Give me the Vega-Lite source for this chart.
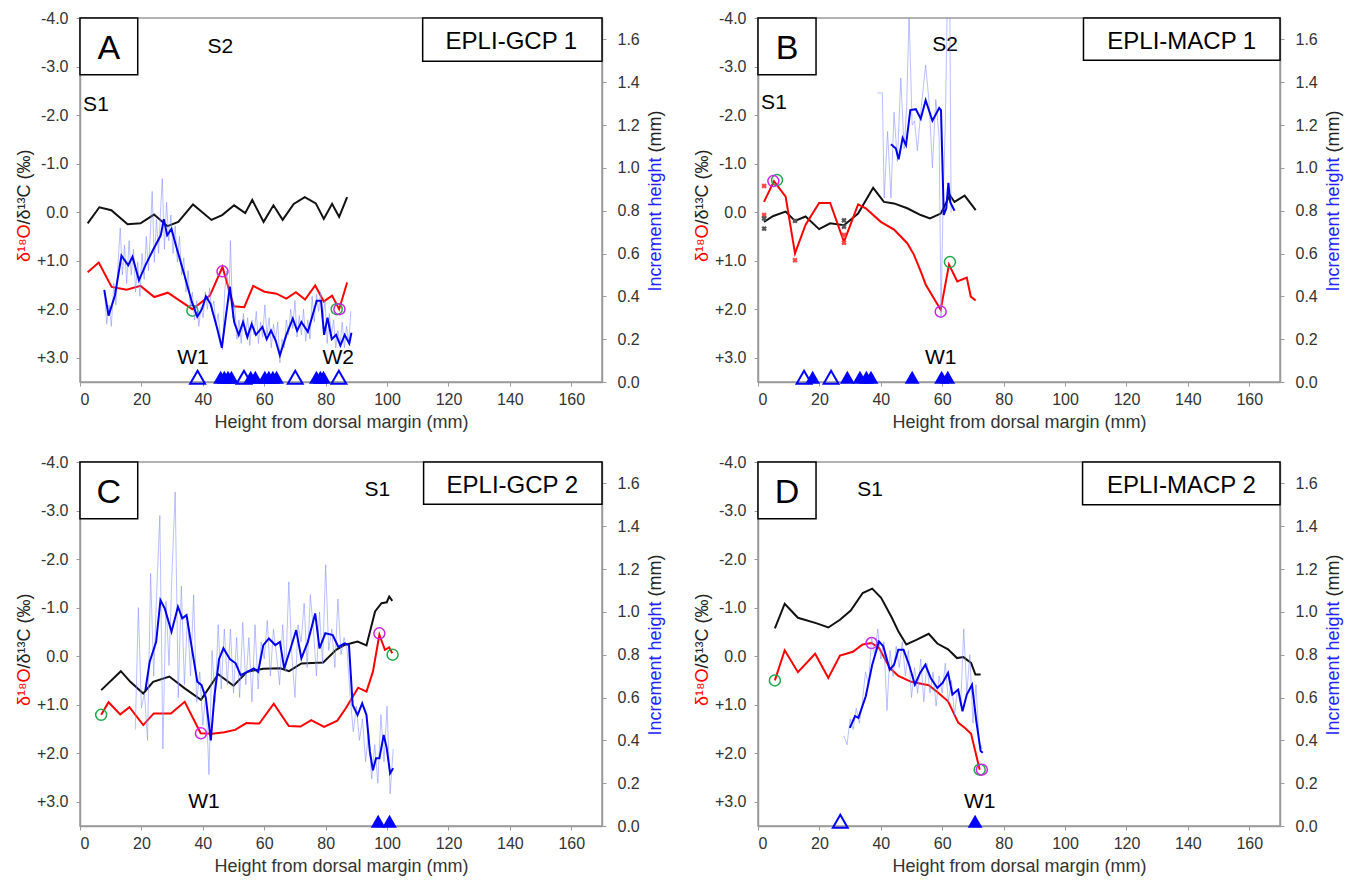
{
"$schema": "https://vega.github.io/schema/vega-lite/v6.json",
"background": "white",
"padding": {"left": 14, "top": 9, "right": 5, "bottom": 5},
"bounds": "flush",
"columns": 2,
"spacing": {"row": 80, "column": 156},
"datasets": {
"box": [
{"p":"A","k":"L","x1":0,"x2":18.8,"y1":-4,"y2":-2.83,"tx":9.4,"ty":-3.37,"t":"A"},
{"p":"A","k":"N","x1":111.6,"x2":170,"y1":-4,"y2":-3.11,"tx":140.5,"ty":-3.5,"t":"EPLI-GCP 1"},
{"p":"B","k":"L","x1":0,"x2":18.9,"y1":-4,"y2":-2.83,"tx":9.45,"ty":-3.37,"t":"B"},
{"p":"B","k":"N","x1":106,"x2":170,"y1":-4,"y2":-3.13,"tx":138,"ty":-3.51,"t":"EPLI-MACP 1"},
{"p":"C","k":"L","x1":0,"x2":18.8,"y1":-4,"y2":-2.83,"tx":9.4,"ty":-3.37,"t":"C"},
{"p":"C","k":"N","x1":111.9,"x2":170,"y1":-4,"y2":-3.13,"tx":140.8,"ty":-3.51,"t":"EPLI-GCP 2"},
{"p":"D","k":"L","x1":0,"x2":18.9,"y1":-4,"y2":-2.83,"tx":9.45,"ty":-3.37,"t":"D"},
{"p":"D","k":"N","x1":105.7,"x2":170,"y1":-4,"y2":-3.12,"tx":137.9,"ty":-3.51,"t":"EPLI-MACP 2"}
],
"lab": [
{"p":"A","x":5.2,"y":-2.2,"t":"S1"},{"p":"A","x":45.7,"y":-3.4,"t":"S2"},{"p":"A","x":36.8,"y":3.0,"t":"W1"},{"p":"A","x":84.1,"y":3.0,"t":"W2"},
{"p":"B","x":5.2,"y":-2.24,"t":"S1"},{"p":"B","x":60.9,"y":-3.44,"t":"S2"},{"p":"B","x":59.5,"y":3.0,"t":"W1"},
{"p":"C","x":96.8,"y":-3.43,"t":"S1"},{"p":"C","x":40.4,"y":3.0,"t":"W1"},
{"p":"D","x":36.5,"y":-3.43,"t":"S1"},{"p":"D","x":72.2,"y":3.0,"t":"W1"}
],
"o18": [
{"p":"A","x":2.5,"v":1.24},{"p":"A","x":6.1,"v":1.04},{"p":"A","x":10.3,"v":1.54},{"p":"A","x":15.2,"v":1.6},{"p":"A","x":19.7,"v":1.52},{"p":"A","x":24.2,"v":1.75},{"p":"A","x":28.6,"v":1.66},{"p":"A","x":36.6,"v":2.0},{"p":"A","x":42.3,"v":1.72},{"p":"A","x":46.4,"v":1.13},{"p":"A","x":50.1,"v":1.94},{"p":"A","x":53.5,"v":1.96},{"p":"A","x":56.4,"v":1.52},{"p":"A","x":60.1,"v":1.64},{"p":"A","x":64,"v":1.68},{"p":"A","x":67.2,"v":1.78},{"p":"A","x":70.3,"v":1.65},{"p":"A","x":73.3,"v":1.8},{"p":"A","x":76.6,"v":1.51},{"p":"A","x":79.4,"v":1.84},{"p":"A","x":82.1,"v":1.72},{"p":"A","x":84.4,"v":2.0},{"p":"A","x":87,"v":1.45},
{"p":"B","x":1.95,"v":-0.21},{"p":"B","x":5.2,"v":-0.64},{"p":"B","x":9.0,"v":-0.32},{"p":"B","x":12.05,"v":0.85},{"p":"B","x":15.5,"v":0.26},{"p":"B","x":19.9,"v":-0.19},{"p":"B","x":23.5,"v":-0.19},{"p":"B","x":28,"v":0.61},{"p":"B","x":32.6,"v":-0.16},{"p":"B","x":35.1,"v":-0.08},{"p":"B","x":40,"v":0.2},{"p":"B","x":44.3,"v":0.36},{"p":"B","x":48.6,"v":0.64},{"p":"B","x":50.8,"v":0.88},{"p":"B","x":53,"v":1.22},{"p":"B","x":54.6,"v":1.49},{"p":"B","x":57.3,"v":1.78},{"p":"B","x":59.5,"v":2.01},{"p":"B","x":62.2,"v":1.08},{"p":"B","x":64.9,"v":1.43},{"p":"B","x":68,"v":1.35},{"p":"B","x":69.3,"v":1.74},{"p":"B","x":70.9,"v":1.82},
{"p":"C","x":6.9,"v":1.21},{"p":"C","x":9.3,"v":0.95},{"p":"C","x":13.1,"v":1.2},{"p":"C","x":16.1,"v":1.05},{"p":"C","x":20.6,"v":1.42},{"p":"C","x":24,"v":1.18},{"p":"C","x":29.6,"v":1.18},{"p":"C","x":34.1,"v":0.94},{"p":"C","x":39.3,"v":1.59},{"p":"C","x":43,"v":1.6},{"p":"C","x":47,"v":1.57},{"p":"C","x":50.5,"v":1.52},{"p":"C","x":54.2,"v":1.38},{"p":"C","x":58.4,"v":1.39},{"p":"C","x":63.1,"v":0.98},{"p":"C","x":68,"v":1.44},{"p":"C","x":71.8,"v":1.45},{"p":"C","x":75.3,"v":1.32},{"p":"C","x":79.5,"v":1.46},{"p":"C","x":83.8,"v":1.33},{"p":"C","x":86.5,"v":1.08},{"p":"C","x":90.6,"v":0.65},{"p":"C","x":93.3,"v":0.73},{"p":"C","x":95.4,"v":0.32},{"p":"C","x":97.5,"v":-0.44},{"p":"C","x":99.3,"v":-0.13},{"p":"C","x":100.7,"v":-0.18},{"p":"C","x":101.7,"v":-0.06},
{"p":"D","x":5.5,"v":0.5},{"p":"D","x":8.7,"v":-0.12},{"p":"D","x":13,"v":0.33},{"p":"D","x":18.6,"v":-0.05},{"p":"D","x":22.9,"v":0.45},{"p":"D","x":26.7,"v":-0.01},{"p":"D","x":30.9,"v":-0.09},{"p":"D","x":34.1,"v":-0.24},{"p":"D","x":37,"v":-0.27},{"p":"D","x":39.4,"v":-0.17},{"p":"D","x":42.9,"v":0.24},{"p":"D","x":45.7,"v":0.41},{"p":"D","x":49.9,"v":0.53},{"p":"D","x":55.6,"v":0.6},{"p":"D","x":58.4,"v":0.74},{"p":"D","x":61.9,"v":0.93},{"p":"D","x":65.2,"v":1.37},{"p":"D","x":67.6,"v":1.49},{"p":"D","x":69.4,"v":1.6},{"p":"D","x":72.2,"v":2.34}
],
"c13": [
{"p":"A","x":2.5,"v":0.23},{"p":"A","x":6.3,"v":-0.1},{"p":"A","x":10.2,"v":-0.04},{"p":"A","x":15.5,"v":0.25},{"p":"A","x":19.7,"v":0.23},{"p":"A","x":24.1,"v":0.05},{"p":"A","x":28.5,"v":0.29},{"p":"A","x":32,"v":0.2},{"p":"A","x":36.8,"v":-0.16},{"p":"A","x":42.8,"v":0.16},{"p":"A","x":46.3,"v":0.06},{"p":"A","x":50.2,"v":-0.14},{"p":"A","x":53.8,"v":0.02},{"p":"A","x":56.1,"v":-0.25},{"p":"A","x":59.8,"v":0.2},{"p":"A","x":63,"v":-0.14},{"p":"A","x":66,"v":0.16},{"p":"A","x":69.6,"v":-0.17},{"p":"A","x":73.2,"v":-0.31},{"p":"A","x":76.8,"v":-0.18},{"p":"A","x":79.4,"v":0.14},{"p":"A","x":82.1,"v":-0.17},{"p":"A","x":84.4,"v":0.1},{"p":"A","x":87,"v":-0.31},
{"p":"B","x":1.95,"v":0.2},{"p":"B","x":5,"v":0.08},{"p":"B","x":9,"v":-0.01},{"p":"B","x":12.05,"v":0.18},{"p":"B","x":15.5,"v":0.09},{"p":"B","x":19.9,"v":0.35},{"p":"B","x":23.5,"v":0.23},{"p":"B","x":28,"v":0.27},{"p":"B","x":32.6,"v":0.03},{"p":"B","x":37.5,"v":-0.5},{"p":"B","x":41,"v":-0.21},{"p":"B","x":44.3,"v":-0.18},{"p":"B","x":48.6,"v":-0.08},{"p":"B","x":53,"v":0.06},{"p":"B","x":56,"v":0.13},{"p":"B","x":59.5,"v":0.03},{"p":"B","x":62.5,"v":-0.35},{"p":"B","x":64,"v":-0.21},{"p":"B","x":67.3,"v":-0.34},{"p":"B","x":70.9,"v":-0.04},
{"p":"C","x":6.9,"v":0.7},{"p":"C","x":13.3,"v":0.31},{"p":"C","x":16.4,"v":0.53},{"p":"C","x":20.6,"v":0.77},{"p":"C","x":23.8,"v":0.53},{"p":"C","x":29.1,"v":0.42},{"p":"C","x":34,"v":0.66},{"p":"C","x":39.4,"v":0.9},{"p":"C","x":45,"v":0.37},{"p":"C","x":50,"v":0.61},{"p":"C","x":54.5,"v":0.32},{"p":"C","x":59.7,"v":0.26},{"p":"C","x":65.3,"v":0.25},{"p":"C","x":68.1,"v":0.31},{"p":"C","x":72.1,"v":0.15},{"p":"C","x":79.2,"v":0.13},{"p":"C","x":83.4,"v":-0.13},{"p":"C","x":86.2,"v":-0.23},{"p":"C","x":90.4,"v":-0.3},{"p":"C","x":93.3,"v":-0.22},{"p":"C","x":96.1,"v":-0.92},{"p":"C","x":98.2,"v":-1.09},{"p":"C","x":99.9,"v":-1.11},{"p":"C","x":100.7,"v":-1.23},{"p":"C","x":101.7,"v":-1.14},
{"p":"D","x":5.5,"v":-0.57},{"p":"D","x":8.7,"v":-1.08},{"p":"D","x":13,"v":-0.79},{"p":"D","x":18.9,"v":-0.68},{"p":"D","x":22.9,"v":-0.59},{"p":"D","x":26.7,"v":-0.75},{"p":"D","x":30.2,"v":-0.94},{"p":"D","x":34.1,"v":-1.3},{"p":"D","x":37.2,"v":-1.39},{"p":"D","x":40.1,"v":-1.2},{"p":"D","x":43.6,"v":-0.79},{"p":"D","x":45.7,"v":-0.51},{"p":"D","x":48.3,"v":-0.24},{"p":"D","x":51.4,"v":-0.33},{"p":"D","x":55.6,"v":-0.46},{"p":"D","x":58.4,"v":-0.26},{"p":"D","x":61.9,"v":-0.14},{"p":"D","x":64.8,"v":0.04},{"p":"D","x":66.9,"v":0.02},{"p":"D","x":69.4,"v":0.14},{"p":"D","x":70.8,"v":0.38},{"p":"D","x":72.5,"v":0.38}
],
"incs": [
{"p":"A","x":7.9,"v":0.43},{"p":"A","x":9.3,"v":0.31},{"p":"A","x":11.4,"v":0.405},{"p":"A","x":13.5,"v":0.59},{"p":"A","x":15.7,"v":0.545},{"p":"A","x":17.1,"v":0.585},{"p":"A","x":19.2,"v":0.475},{"p":"A","x":21.3,"v":0.545},{"p":"A","x":23.9,"v":0.62},{"p":"A","x":26.3,"v":0.685},{"p":"A","x":27.3,"v":0.76},{"p":"A","x":28.4,"v":0.685},{"p":"A","x":29.8,"v":0.715},{"p":"A","x":31.2,"v":0.64},{"p":"A","x":34,"v":0.5},{"p":"A","x":36.4,"v":0.375},{"p":"A","x":38.2,"v":0.305},{"p":"A","x":39.7,"v":0.34},{"p":"A","x":41,"v":0.4},{"p":"A","x":42.5,"v":0.365},{"p":"A","x":44.6,"v":0.255},{"p":"A","x":46.2,"v":0.16},{"p":"A","x":47.4,"v":0.295},{"p":"A","x":48.8,"v":0.445},{"p":"A","x":50.2,"v":0.28},{"p":"A","x":51.7,"v":0.22},{"p":"A","x":53.1,"v":0.28},{"p":"A","x":54.5,"v":0.21},{"p":"A","x":55.9,"v":0.27},{"p":"A","x":57.3,"v":0.22},{"p":"A","x":59.4,"v":0.257},{"p":"A","x":60.8,"v":0.2},{"p":"A","x":62.2,"v":0.24},{"p":"A","x":63.7,"v":0.195},{"p":"A","x":65.1,"v":0.125},{"p":"A","x":67.2,"v":0.22},{"p":"A","x":69.3,"v":0.296},{"p":"A","x":70.7,"v":0.24},{"p":"A","x":72.1,"v":0.28},{"p":"A","x":74.2,"v":0.234},{"p":"A","x":77.1,"v":0.38},{"p":"A","x":78.5,"v":0.38},{"p":"A","x":79.5,"v":0.22},{"p":"A","x":80.6,"v":0.3},{"p":"A","x":82,"v":0.2},{"p":"A","x":83.4,"v":0.22},{"p":"A","x":84.8,"v":0.17},{"p":"A","x":86.2,"v":0.22},{"p":"A","x":87.7,"v":0.18},{"p":"A","x":88.4,"v":0.23},
{"p":"B","x":43.3,"v":1.11},{"p":"B","x":44.9,"v":1.09},{"p":"B","x":45.8,"v":1.04},{"p":"B","x":47.1,"v":1.14},{"p":"B","x":48.2,"v":1.106},{"p":"B","x":49.6,"v":1.27},{"p":"B","x":51.4,"v":1.274},{"p":"B","x":53,"v":1.23},{"p":"B","x":54.6,"v":1.316},{"p":"B","x":56.8,"v":1.22},{"p":"B","x":59,"v":1.28},{"p":"B","x":59.6,"v":1.27},{"p":"B","x":60.5,"v":0.78},{"p":"B","x":61.3,"v":0.81},{"p":"B","x":62,"v":0.93},{"p":"B","x":62.6,"v":0.84},{"p":"B","x":64,"v":0.8},
{"p":"C","x":21.3,"v":0.635},{"p":"C","x":22.7,"v":0.767},{"p":"C","x":24.8,"v":0.86},{"p":"C","x":26.2,"v":1.055},{"p":"C","x":27.6,"v":1.016},{"p":"C","x":29.8,"v":0.907},{"p":"C","x":31.9,"v":1.024},{"p":"C","x":33.3,"v":0.97},{"p":"C","x":34.7,"v":0.985},{"p":"C","x":36.1,"v":0.86},{"p":"C","x":38.2,"v":0.674},{"p":"C","x":39.6,"v":0.658},{"p":"C","x":41,"v":0.596},{"p":"C","x":42.6,"v":0.4},{"p":"C","x":43.8,"v":0.61},{"p":"C","x":45.3,"v":0.78},{"p":"C","x":46.7,"v":0.83},{"p":"C","x":48.8,"v":0.78},{"p":"C","x":50.7,"v":0.76},{"p":"C","x":52.3,"v":0.705},{"p":"C","x":54.5,"v":0.72},{"p":"C","x":56.6,"v":0.736},{"p":"C","x":58,"v":0.72},{"p":"C","x":59.7,"v":0.845},{"p":"C","x":61.5,"v":0.876},{"p":"C","x":63.6,"v":0.845},{"p":"C","x":65.1,"v":0.86},{"p":"C","x":66.5,"v":0.736},{"p":"C","x":68.6,"v":0.83},{"p":"C","x":70.4,"v":0.915},{"p":"C","x":72.1,"v":0.783},{"p":"C","x":74.2,"v":0.86},{"p":"C","x":76.6,"v":0.993},{"p":"C","x":78,"v":0.83},{"p":"C","x":79.9,"v":0.9},{"p":"C","x":82.3,"v":0.892},{"p":"C","x":84.1,"v":0.837},{"p":"C","x":86.2,"v":0.853},{"p":"C","x":87.6,"v":0.845},{"p":"C","x":88.8,"v":0.565},{"p":"C","x":90.4,"v":0.518},{"p":"C","x":91.9,"v":0.573},{"p":"C","x":93.3,"v":0.518},{"p":"C","x":94.4,"v":0.347},{"p":"C","x":95.4,"v":0.26},{"p":"C","x":96.4,"v":0.316},{"p":"C","x":97.5,"v":0.316},{"p":"C","x":98.9,"v":0.425},{"p":"C","x":99.9,"v":0.363},{"p":"C","x":101,"v":0.246},{"p":"C","x":102,"v":0.27},
{"p":"D","x":29.9,"v":0.458},{"p":"D","x":31.6,"v":0.513},{"p":"D","x":32.7,"v":0.505},{"p":"D","x":35.1,"v":0.606},{"p":"D","x":37.2,"v":0.753},{"p":"D","x":39.4,"v":0.862},{"p":"D","x":40.8,"v":0.839},{"p":"D","x":42.9,"v":0.73},{"p":"D","x":44.3,"v":0.753},{"p":"D","x":45.7,"v":0.823},{"p":"D","x":47.4,"v":0.823},{"p":"D","x":49.2,"v":0.753},{"p":"D","x":51.1,"v":0.66},{"p":"D","x":52.8,"v":0.715},{"p":"D","x":54.5,"v":0.753},{"p":"D","x":56.3,"v":0.69},{"p":"D","x":58.4,"v":0.645},{"p":"D","x":60.1,"v":0.668},{"p":"D","x":61.9,"v":0.715},{"p":"D","x":63.3,"v":0.614},{"p":"D","x":65.2,"v":0.637},{"p":"D","x":66.6,"v":0.536},{"p":"D","x":68,"v":0.614},{"p":"D","x":69.7,"v":0.66},{"p":"D","x":71.1,"v":0.49},{"p":"D","x":72.5,"v":0.35},{"p":"D","x":73.2,"v":0.342}
],
"incr": [
{"p":"A","x":8,"v":0.42},{"p":"A","x":8.7,"v":0.27},{"p":"A","x":9.5,"v":0.36},{"p":"A","x":10.2,"v":0.26},{"p":"A","x":11,"v":0.46},{"p":"A","x":11.7,"v":0.36},{"p":"A","x":12.4,"v":0.56},{"p":"A","x":13.1,"v":0.72},{"p":"A","x":13.8,"v":0.5},{"p":"A","x":14.5,"v":0.64},{"p":"A","x":15.2,"v":0.46},{"p":"A","x":16,"v":0.66},{"p":"A","x":16.7,"v":0.5},{"p":"A","x":17.4,"v":0.62},{"p":"A","x":18.1,"v":0.42},{"p":"A","x":18.8,"v":0.56},{"p":"A","x":19.5,"v":0.4},{"p":"A","x":20.2,"v":0.6},{"p":"A","x":20.9,"v":0.48},{"p":"A","x":21.6,"v":0.68},{"p":"A","x":22.3,"v":0.52},{"p":"A","x":23,"v":0.72},{"p":"A","x":23.5,"v":0.89},{"p":"A","x":24.2,"v":0.56},{"p":"A","x":24.9,"v":0.76},{"p":"A","x":25.6,"v":0.6},{"p":"A","x":26.3,"v":0.82},{"p":"A","x":26.8,"v":0.95},{"p":"A","x":27.5,"v":0.62},{"p":"A","x":28.2,"v":0.84},{"p":"A","x":28.9,"v":0.66},{"p":"A","x":29.6,"v":0.78},{"p":"A","x":30.3,"v":0.6},{"p":"A","x":31,"v":0.73},{"p":"A","x":31.7,"v":0.56},{"p":"A","x":32.4,"v":0.68},{"p":"A","x":33.1,"v":0.5},{"p":"A","x":33.8,"v":0.58},{"p":"A","x":34.5,"v":0.42},{"p":"A","x":35.2,"v":0.52},{"p":"A","x":35.9,"v":0.35},{"p":"A","x":36.6,"v":0.42},{"p":"A","x":37.3,"v":0.29},{"p":"A","x":38,"v":0.38},{"p":"A","x":38.7,"v":0.26},{"p":"A","x":39.4,"v":0.35},{"p":"A","x":40.1,"v":0.3},{"p":"A","x":40.8,"v":0.42},{"p":"A","x":41.5,"v":0.34},{"p":"A","x":42.2,"v":0.44},{"p":"A","x":42.9,"v":0.33},{"p":"A","x":43.6,"v":0.38},{"p":"A","x":44.3,"v":0.26},{"p":"A","x":45,"v":0.32},{"p":"A","x":45.7,"v":0.2},{"p":"A","x":46.4,"v":0.15},{"p":"A","x":47.1,"v":0.42},{"p":"A","x":47.8,"v":0.52},{"p":"A","x":48.5,"v":0.38},{"p":"A","x":49,"v":0.66},{"p":"A","x":49.7,"v":0.3},{"p":"A","x":50.4,"v":0.36},{"p":"A","x":51.1,"v":0.2},{"p":"A","x":51.8,"v":0.29},{"p":"A","x":52.5,"v":0.18},{"p":"A","x":53.2,"v":0.32},{"p":"A","x":53.9,"v":0.22},{"p":"A","x":54.6,"v":0.3},{"p":"A","x":55.3,"v":0.17},{"p":"A","x":56,"v":0.29},{"p":"A","x":56.7,"v":0.22},{"p":"A","x":57.4,"v":0.33},{"p":"A","x":58.1,"v":0.18},{"p":"A","x":58.8,"v":0.28},{"p":"A","x":59.5,"v":0.21},{"p":"A","x":60.2,"v":0.36},{"p":"A","x":60.9,"v":0.22},{"p":"A","x":61.6,"v":0.3},{"p":"A","x":62.3,"v":0.16},{"p":"A","x":63,"v":0.27},{"p":"A","x":63.7,"v":0.2},{"p":"A","x":64.4,"v":0.28},{"p":"A","x":65.1,"v":0.09},{"p":"A","x":65.8,"v":0.2},{"p":"A","x":66.5,"v":0.16},{"p":"A","x":67.2,"v":0.29},{"p":"A","x":67.9,"v":0.22},{"p":"A","x":68.6,"v":0.34},{"p":"A","x":69.3,"v":0.25},{"p":"A","x":70,"v":0.38},{"p":"A","x":70.7,"v":0.21},{"p":"A","x":71.4,"v":0.31},{"p":"A","x":72.1,"v":0.22},{"p":"A","x":72.8,"v":0.34},{"p":"A","x":73.5,"v":0.19},{"p":"A","x":74.2,"v":0.29},{"p":"A","x":74.9,"v":0.2},{"p":"A","x":75.6,"v":0.4},{"p":"A","x":76.3,"v":0.28},{"p":"A","x":77,"v":0.41},{"p":"A","x":77.7,"v":0.33},{"p":"A","x":78.4,"v":0.42},{"p":"A","x":79.1,"v":0.3},{"p":"A","x":79.8,"v":0.38},{"p":"A","x":80.5,"v":0.18},{"p":"A","x":81.2,"v":0.32},{"p":"A","x":81.9,"v":0.22},{"p":"A","x":82.6,"v":0.29},{"p":"A","x":83.3,"v":0.16},{"p":"A","x":84,"v":0.24},{"p":"A","x":84.7,"v":0.17},{"p":"A","x":85.4,"v":0.28},{"p":"A","x":86.1,"v":0.16},{"p":"A","x":86.8,"v":0.26},{"p":"A","x":87.5,"v":0.18},{"p":"A","x":88.2,"v":0.33},
{"p":"B","x":38.9,"v":1.35},{"p":"B","x":40.5,"v":1.35},{"p":"B","x":41.1,"v":0.86},{"p":"B","x":42.2,"v":1.17},{"p":"B","x":43.3,"v":0.86},{"p":"B","x":44.3,"v":1.26},{"p":"B","x":45.4,"v":1.03},{"p":"B","x":46.5,"v":1.42},{"p":"B","x":47.6,"v":1.09},{"p":"B","x":48.4,"v":1.28},{"p":"B","x":49.2,"v":1.72},{"p":"B","x":50.2,"v":1.2},{"p":"B","x":51,"v":1.22},{"p":"B","x":51.9,"v":1.08},{"p":"B","x":53,"v":1.26},{"p":"B","x":54.6,"v":1.48},{"p":"B","x":55.7,"v":1.31},{"p":"B","x":56.8,"v":1.0},{"p":"B","x":57.9,"v":1.32},{"p":"B","x":59,"v":1.14},{"p":"B","x":59.6,"v":0.3},{"p":"B","x":60.3,"v":0.85},{"p":"B","x":61,"v":1.2},{"p":"B","x":61.8,"v":1.9},{"p":"B","x":62.4,"v":1.9},{"p":"B","x":62.9,"v":0.79},
{"p":"C","x":18,"v":0.45},{"p":"C","x":19,"v":1.02},{"p":"C","x":20,"v":0.55},{"p":"C","x":21,"v":0.62},{"p":"C","x":22,"v":0.4},{"p":"C","x":23,"v":1.18},{"p":"C","x":24,"v":0.7},{"p":"C","x":25,"v":1.1},{"p":"C","x":26,"v":1.45},{"p":"C","x":27,"v":0.36},{"p":"C","x":28,"v":1.05},{"p":"C","x":29,"v":0.75},{"p":"C","x":30,"v":1.2},{"p":"C","x":31,"v":1.56},{"p":"C","x":32,"v":0.6},{"p":"C","x":33,"v":1.12},{"p":"C","x":34,"v":0.66},{"p":"C","x":35,"v":0.98},{"p":"C","x":36,"v":0.7},{"p":"C","x":37,"v":1.08},{"p":"C","x":38,"v":0.58},{"p":"C","x":39,"v":0.72},{"p":"C","x":40,"v":0.47},{"p":"C","x":41,"v":0.62},{"p":"C","x":42,"v":0.24},{"p":"C","x":43,"v":0.82},{"p":"C","x":44,"v":0.58},{"p":"C","x":45,"v":0.94},{"p":"C","x":46,"v":0.64},{"p":"C","x":47,"v":0.92},{"p":"C","x":48,"v":0.66},{"p":"C","x":49,"v":0.92},{"p":"C","x":50,"v":0.62},{"p":"C","x":51,"v":0.88},{"p":"C","x":52,"v":0.6},{"p":"C","x":53,"v":0.95},{"p":"C","x":54,"v":0.66},{"p":"C","x":55,"v":0.88},{"p":"C","x":56,"v":0.58},{"p":"C","x":57,"v":0.94},{"p":"C","x":58,"v":0.64},{"p":"C","x":59,"v":0.86},{"p":"C","x":60,"v":0.78},{"p":"C","x":61,"v":0.96},{"p":"C","x":62,"v":0.7},{"p":"C","x":63,"v":0.92},{"p":"C","x":64,"v":0.8},{"p":"C","x":65,"v":0.66},{"p":"C","x":66,"v":0.94},{"p":"C","x":67,"v":0.72},{"p":"C","x":68,"v":1.14},{"p":"C","x":69,"v":0.8},{"p":"C","x":70,"v":0.6},{"p":"C","x":71,"v":0.94},{"p":"C","x":72,"v":0.86},{"p":"C","x":73,"v":1.04},{"p":"C","x":74,"v":0.74},{"p":"C","x":75,"v":1.08},{"p":"C","x":76,"v":0.92},{"p":"C","x":77,"v":0.7},{"p":"C","x":78,"v":1.0},{"p":"C","x":79,"v":0.76},{"p":"C","x":80,"v":1.22},{"p":"C","x":81,"v":0.82},{"p":"C","x":82,"v":0.92},{"p":"C","x":83,"v":0.74},{"p":"C","x":84,"v":1.06},{"p":"C","x":85,"v":0.8},{"p":"C","x":86,"v":0.88},{"p":"C","x":87,"v":0.82},{"p":"C","x":88,"v":0.6},{"p":"C","x":89,"v":0.44},{"p":"C","x":90,"v":0.56},{"p":"C","x":91,"v":0.4},{"p":"C","x":92,"v":0.5},{"p":"C","x":93,"v":0.3},{"p":"C","x":94,"v":0.44},{"p":"C","x":95,"v":0.22},{"p":"C","x":96,"v":0.38},{"p":"C","x":97,"v":0.2},{"p":"C","x":98,"v":0.52},{"p":"C","x":99,"v":0.3},{"p":"C","x":100,"v":0.56},{"p":"C","x":101,"v":0.15},{"p":"C","x":102,"v":0.36},
{"p":"D","x":28,"v":0.42},{"p":"D","x":29,"v":0.38},{"p":"D","x":30,"v":0.5},{"p":"D","x":31,"v":0.45},{"p":"D","x":32,"v":0.55},{"p":"D","x":33,"v":0.48},{"p":"D","x":34,"v":0.58},{"p":"D","x":35,"v":0.72},{"p":"D","x":36,"v":0.66},{"p":"D","x":37,"v":0.88},{"p":"D","x":38,"v":0.8},{"p":"D","x":39,"v":0.92},{"p":"D","x":40,"v":0.78},{"p":"D","x":41,"v":0.86},{"p":"D","x":42,"v":0.54},{"p":"D","x":43,"v":0.82},{"p":"D","x":44,"v":0.7},{"p":"D","x":45,"v":0.84},{"p":"D","x":46,"v":0.74},{"p":"D","x":47,"v":0.86},{"p":"D","x":48,"v":0.7},{"p":"D","x":49,"v":0.82},{"p":"D","x":50,"v":0.6},{"p":"D","x":51,"v":0.74},{"p":"D","x":52,"v":0.62},{"p":"D","x":53,"v":0.78},{"p":"D","x":54,"v":0.58},{"p":"D","x":55,"v":0.76},{"p":"D","x":56,"v":0.62},{"p":"D","x":57,"v":0.72},{"p":"D","x":58,"v":0.56},{"p":"D","x":59,"v":0.7},{"p":"D","x":60,"v":0.62},{"p":"D","x":61,"v":0.76},{"p":"D","x":62,"v":0.58},{"p":"D","x":63,"v":0.68},{"p":"D","x":64,"v":0.52},{"p":"D","x":65,"v":0.64},{"p":"D","x":66,"v":0.56},{"p":"D","x":67,"v":0.92},{"p":"D","x":68,"v":0.62},{"p":"D","x":69,"v":0.8},{"p":"D","x":70,"v":0.48},{"p":"D","x":71,"v":0.66},{"p":"D","x":72,"v":0.4},{"p":"D","x":73,"v":0.36}
],
"tri": [
{"p":"A","x":38.3,"f":0},{"p":"A","x":45.8,"f":1},{"p":"A","x":47,"f":1},{"p":"A","x":48.2,"f":1},{"p":"A","x":49.3,"f":1},{"p":"A","x":53.4,"f":0},{"p":"A","x":55.6,"f":1},{"p":"A","x":57.1,"f":1},{"p":"A","x":60.2,"f":1},{"p":"A","x":61.5,"f":1},{"p":"A","x":62.8,"f":1},{"p":"A","x":64,"f":1},{"p":"A","x":70.1,"f":0},{"p":"A","x":77,"f":1},{"p":"A","x":78.3,"f":1},{"p":"A","x":79.3,"f":1},{"p":"A","x":84.3,"f":0},
{"p":"B","x":15,"f":0},{"p":"B","x":17.8,"f":1},{"p":"B","x":23.8,"f":0},{"p":"B","x":29.1,"f":1},{"p":"B","x":33.2,"f":1},{"p":"B","x":35.3,"f":1},{"p":"B","x":36.8,"f":1},{"p":"B","x":50.2,"f":1},{"p":"B","x":59.8,"f":1},{"p":"B","x":61.8,"f":1},
{"p":"C","x":97.1,"f":1},{"p":"C","x":100.8,"f":1},
{"p":"D","x":26.8,"f":0},{"p":"D","x":70.7,"f":1}
],
"circ": [
{"p":"A","x":36.6,"v":2.03,"c":"g"},{"p":"A","x":46.4,"v":1.22,"c":"m"},{"p":"A","x":83.6,"v":2.0,"c":"g"},{"p":"A","x":84.5,"v":2.0,"c":"m"},
{"p":"B","x":5.0,"v":-0.64,"c":"m"},{"p":"B","x":6.2,"v":-0.66,"c":"g"},{"p":"B","x":59.5,"v":2.05,"c":"m"},{"p":"B","x":62.5,"v":1.03,"c":"g"},
{"p":"C","x":6.9,"v":1.21,"c":"g"},{"p":"C","x":39.4,"v":1.59,"c":"m"},{"p":"C","x":97.5,"v":-0.47,"c":"m"},{"p":"C","x":101.8,"v":-0.03,"c":"g"},
{"p":"D","x":5.5,"v":0.5,"c":"g"},{"p":"D","x":37,"v":-0.27,"c":"m"},{"p":"D","x":72.2,"v":2.34,"c":"g"},{"p":"D","x":72.9,"v":2.34,"c":"m"}
],
"xm": [
{"p":"B","x":2,"v":-0.54,"c":"r"},{"p":"B","x":2,"v":0.06,"c":"r"},{"p":"B","x":12.05,"v":0.99,"c":"r"},{"p":"B","x":28,"v":0.47,"c":"r"},{"p":"B","x":28,"v":0.63,"c":"r"},
{"p":"B","x":2,"v":0.13,"c":"k"},{"p":"B","x":2,"v":0.34,"c":"k"},{"p":"B","x":12.05,"v":0.18,"c":"k"},{"p":"B","x":28,"v":0.17,"c":"k"},{"p":"B","x":28,"v":0.3,"c":"k"}
]
},
"concat": [
{"width":522,"height":364,"resolve":{"scale":{"y":"independent"},"axis":{"y":"independent"}},"layer":[
{"resolve":{"axis":{"y":"independent"}},"layer":[
{"data":{"name":"box"},"transform":[{"filter":"datum.p == 'A'"}],"mark":{"type":"rect","fill":"white","stroke":"black","strokeWidth":1.5},"encoding":{"x":{"field":"x1","type":"quantitative","scale":{"domain":[0,170],"nice":false,"zero":false},"title":"Height from dorsal margin (mm)"},"x2":{"field":"x2"},"y":{"field":"y1","type":"quantitative","scale":{"domain":[-4,3.5],"reverse":true,"nice":false,"zero":false},"axis":null},"y2":{"field":"y2"}}},
{"data":{"name":"box"},"transform":[{"filter":"datum.p == 'A' && datum.k == 'L'"}],"mark":{"type":"text","fontSize":34,"align":"center","baseline":"middle","color":"black"},"encoding":{"x":{"field":"tx","type":"quantitative","scale":{"domain":[0,170],"nice":false,"zero":false},"title":"Height from dorsal margin (mm)"},"y":{"field":"ty","type":"quantitative","scale":{"domain":[-4,3.5],"reverse":true,"nice":false,"zero":false},"axis":null},"text":{"field":"t"}}},
{"data":{"name":"box"},"transform":[{"filter":"datum.p == 'A' && datum.k == 'N'"}],"mark":{"type":"text","fontSize":24,"align":"center","baseline":"middle","color":"black"},"encoding":{"x":{"field":"tx","type":"quantitative","scale":{"domain":[0,170],"nice":false,"zero":false},"title":"Height from dorsal margin (mm)"},"y":{"field":"ty","type":"quantitative","scale":{"domain":[-4,3.5],"reverse":true,"nice":false,"zero":false},"axis":null},"text":{"field":"t"}}},
{"data":{"name":"lab"},"transform":[{"filter":"datum.p == 'A'"}],"mark":{"type":"text","fontSize":21,"align":"center","baseline":"middle","color":"black"},"encoding":{"x":{"field":"x","type":"quantitative","scale":{"domain":[0,170],"nice":false,"zero":false},"title":"Height from dorsal margin (mm)"},"y":{"field":"y","type":"quantitative","scale":{"domain":[-4,3.5],"reverse":true,"nice":false,"zero":false},"axis":null},"text":{"field":"t"}}},
{"data":{"name":"c13"},"transform":[{"filter":"datum.p == 'A'"}],"mark":{"type":"line","color":"#111111","strokeWidth":2},"encoding":{"x":{"field":"x","type":"quantitative","scale":{"domain":[0,170],"nice":false,"zero":false},"title":"Height from dorsal margin (mm)"},"y":{"field":"v","type":"quantitative","scale":{"domain":[-4,3.5],"reverse":true,"nice":false,"zero":false},"axis":{"orient":"left","values":[-4,-3,-2,-1,0,1,2,3],"labelExpr":"datum.value < 0 ? '-' + format(-datum.value, '.1f') : (datum.value > 0 ? '+' + format(datum.value, '.1f') : '0.0')","tickSize":4,"labelPadding":8,"title":"/δ¹³C (‰)","titleColor":"#222222","titleAngle":270,"titleAlign":"left","titleBaseline":"middle","titleX":-56,"titleY":206}}}},
{"data":{"name":"o18"},"transform":[{"filter":"datum.p == 'A'"}],"mark":{"type":"line","color":"#ff0000","strokeWidth":2},"encoding":{"x":{"field":"x","type":"quantitative","scale":{"domain":[0,170],"nice":false,"zero":false},"title":"Height from dorsal margin (mm)"},"y":{"field":"v","type":"quantitative","scale":{"domain":[-4,3.5],"reverse":true,"nice":false,"zero":false},"axis":{"orient":"left","labels":false,"ticks":false,"domain":false,"title":"δ¹⁸O","titleColor":"#ff0000","titleAngle":270,"titleAlign":"right","titleBaseline":"middle","titleX":-56,"titleY":206}}}},
{"data":{"name":"xm"},"transform":[{"filter":"datum.p == 'A' && datum.c == 'r'"}],"mark":{"type":"point","shape":"cross","angle":45,"filled":true,"size":30,"color":"#ff4444","opacity":1},"encoding":{"x":{"field":"x","type":"quantitative","scale":{"domain":[0,170],"nice":false,"zero":false},"title":"Height from dorsal margin (mm)"},"y":{"field":"v","type":"quantitative","scale":{"domain":[-4,3.5],"reverse":true,"nice":false,"zero":false},"axis":null}}},
{"data":{"name":"xm"},"transform":[{"filter":"datum.p == 'A' && datum.c == 'k'"}],"mark":{"type":"point","shape":"cross","angle":45,"filled":true,"size":30,"color":"#555555","opacity":1},"encoding":{"x":{"field":"x","type":"quantitative","scale":{"domain":[0,170],"nice":false,"zero":false},"title":"Height from dorsal margin (mm)"},"y":{"field":"v","type":"quantitative","scale":{"domain":[-4,3.5],"reverse":true,"nice":false,"zero":false},"axis":null}}},
{"data":{"name":"circ"},"transform":[{"filter":"datum.p == 'A' && datum.c == 'g'"}],"mark":{"type":"point","shape":"circle","filled":false,"size":121,"strokeWidth":1.5,"color":"#1fa84a","opacity":1},"encoding":{"x":{"field":"x","type":"quantitative","scale":{"domain":[0,170],"nice":false,"zero":false},"title":"Height from dorsal margin (mm)"},"y":{"field":"v","type":"quantitative","scale":{"domain":[-4,3.5],"reverse":true,"nice":false,"zero":false},"axis":null}}},
{"data":{"name":"circ"},"transform":[{"filter":"datum.p == 'A' && datum.c == 'm'"}],"mark":{"type":"point","shape":"circle","filled":false,"size":121,"strokeWidth":1.5,"color":"#cc22ee","opacity":1},"encoding":{"x":{"field":"x","type":"quantitative","scale":{"domain":[0,170],"nice":false,"zero":false},"title":"Height from dorsal margin (mm)"},"y":{"field":"v","type":"quantitative","scale":{"domain":[-4,3.5],"reverse":true,"nice":false,"zero":false},"axis":null}}}
]},
{"resolve":{"axis":{"y":"independent"}},"layer":[
{"data":{"name":"incr"},"transform":[{"filter":"datum.p == 'A'"}],"mark":{"type":"line","color":"#7f8cff","strokeWidth":1,"opacity":0.55,"clip":true},"encoding":{"x":{"field":"x","type":"quantitative","scale":{"domain":[0,170],"nice":false,"zero":false},"title":"Height from dorsal margin (mm)"},"y":{"field":"v","type":"quantitative","scale":{"domain":[0,1.7],"nice":false,"zero":false},"axis":{"orient":"right","labels":false,"ticks":false,"domain":false,"title":"Increment height","titleColor":"#2222ff","titleAngle":270,"titleAlign":"right","titleBaseline":"middle","titleX":53,"titleY":139}}}},
{"data":{"name":"incs"},"transform":[{"filter":"datum.p == 'A'"}],"mark":{"type":"line","color":"#0000ee","strokeWidth":2,"clip":true},"encoding":{"x":{"field":"x","type":"quantitative","scale":{"domain":[0,170],"nice":false,"zero":false},"title":"Height from dorsal margin (mm)"},"y":{"field":"v","type":"quantitative","scale":{"domain":[0,1.7],"nice":false,"zero":false},"axis":{"orient":"right","values":[0,0.2,0.4,0.6,0.8,1,1.2,1.4,1.6],"format":".1f","tickSize":4,"labelPadding":11,"title":"(mm)","titleColor":"#222222","titleAngle":270,"titleAlign":"left","titleBaseline":"middle","titleX":53,"titleY":134}}}},
{"data":{"name":"tri"},"transform":[{"filter":"datum.p == 'A' && datum.f == 0"}],"mark":{"type":"point","shape":"triangle-up","filled":false,"size":220,"strokeWidth":2,"color":"#0000ff","opacity":1},"encoding":{"x":{"field":"x","type":"quantitative","scale":{"domain":[0,170],"nice":false,"zero":false},"title":"Height from dorsal margin (mm)"},"y":{"datum":0.022,"type":"quantitative","scale":{"domain":[0,1.7],"nice":false,"zero":false},"axis":null}}},
{"data":{"name":"tri"},"transform":[{"filter":"datum.p == 'A' && datum.f == 1"}],"mark":{"type":"point","shape":"triangle-up","filled":true,"size":220,"color":"#0000ff","opacity":1},"encoding":{"x":{"field":"x","type":"quantitative","scale":{"domain":[0,170],"nice":false,"zero":false},"title":"Height from dorsal margin (mm)"},"y":{"datum":0.022,"type":"quantitative","scale":{"domain":[0,1.7],"nice":false,"zero":false},"axis":null}}}
]}
]},
{"width":522,"height":364,"resolve":{"scale":{"y":"independent"},"axis":{"y":"independent"}},"layer":[
{"resolve":{"axis":{"y":"independent"}},"layer":[
{"data":{"name":"box"},"transform":[{"filter":"datum.p == 'B'"}],"mark":{"type":"rect","fill":"white","stroke":"black","strokeWidth":1.5},"encoding":{"x":{"field":"x1","type":"quantitative","scale":{"domain":[0,170],"nice":false,"zero":false},"title":"Height from dorsal margin (mm)"},"x2":{"field":"x2"},"y":{"field":"y1","type":"quantitative","scale":{"domain":[-4,3.5],"reverse":true,"nice":false,"zero":false},"axis":null},"y2":{"field":"y2"}}},
{"data":{"name":"box"},"transform":[{"filter":"datum.p == 'B' && datum.k == 'L'"}],"mark":{"type":"text","fontSize":34,"align":"center","baseline":"middle","color":"black"},"encoding":{"x":{"field":"tx","type":"quantitative","scale":{"domain":[0,170],"nice":false,"zero":false},"title":"Height from dorsal margin (mm)"},"y":{"field":"ty","type":"quantitative","scale":{"domain":[-4,3.5],"reverse":true,"nice":false,"zero":false},"axis":null},"text":{"field":"t"}}},
{"data":{"name":"box"},"transform":[{"filter":"datum.p == 'B' && datum.k == 'N'"}],"mark":{"type":"text","fontSize":24,"align":"center","baseline":"middle","color":"black"},"encoding":{"x":{"field":"tx","type":"quantitative","scale":{"domain":[0,170],"nice":false,"zero":false},"title":"Height from dorsal margin (mm)"},"y":{"field":"ty","type":"quantitative","scale":{"domain":[-4,3.5],"reverse":true,"nice":false,"zero":false},"axis":null},"text":{"field":"t"}}},
{"data":{"name":"lab"},"transform":[{"filter":"datum.p == 'B'"}],"mark":{"type":"text","fontSize":21,"align":"center","baseline":"middle","color":"black"},"encoding":{"x":{"field":"x","type":"quantitative","scale":{"domain":[0,170],"nice":false,"zero":false},"title":"Height from dorsal margin (mm)"},"y":{"field":"y","type":"quantitative","scale":{"domain":[-4,3.5],"reverse":true,"nice":false,"zero":false},"axis":null},"text":{"field":"t"}}},
{"data":{"name":"c13"},"transform":[{"filter":"datum.p == 'B'"}],"mark":{"type":"line","color":"#111111","strokeWidth":2},"encoding":{"x":{"field":"x","type":"quantitative","scale":{"domain":[0,170],"nice":false,"zero":false},"title":"Height from dorsal margin (mm)"},"y":{"field":"v","type":"quantitative","scale":{"domain":[-4,3.5],"reverse":true,"nice":false,"zero":false},"axis":{"orient":"left","values":[-4,-3,-2,-1,0,1,2,3],"labelExpr":"datum.value < 0 ? '-' + format(-datum.value, '.1f') : (datum.value > 0 ? '+' + format(datum.value, '.1f') : '0.0')","tickSize":4,"labelPadding":8,"title":"/δ¹³C (‰)","titleColor":"#222222","titleAngle":270,"titleAlign":"left","titleBaseline":"middle","titleX":-56,"titleY":206}}}},
{"data":{"name":"o18"},"transform":[{"filter":"datum.p == 'B'"}],"mark":{"type":"line","color":"#ff0000","strokeWidth":2},"encoding":{"x":{"field":"x","type":"quantitative","scale":{"domain":[0,170],"nice":false,"zero":false},"title":"Height from dorsal margin (mm)"},"y":{"field":"v","type":"quantitative","scale":{"domain":[-4,3.5],"reverse":true,"nice":false,"zero":false},"axis":{"orient":"left","labels":false,"ticks":false,"domain":false,"title":"δ¹⁸O","titleColor":"#ff0000","titleAngle":270,"titleAlign":"right","titleBaseline":"middle","titleX":-56,"titleY":206}}}},
{"data":{"name":"xm"},"transform":[{"filter":"datum.p == 'B' && datum.c == 'r'"}],"mark":{"type":"point","shape":"cross","angle":45,"filled":true,"size":30,"color":"#ff4444","opacity":1},"encoding":{"x":{"field":"x","type":"quantitative","scale":{"domain":[0,170],"nice":false,"zero":false},"title":"Height from dorsal margin (mm)"},"y":{"field":"v","type":"quantitative","scale":{"domain":[-4,3.5],"reverse":true,"nice":false,"zero":false},"axis":null}}},
{"data":{"name":"xm"},"transform":[{"filter":"datum.p == 'B' && datum.c == 'k'"}],"mark":{"type":"point","shape":"cross","angle":45,"filled":true,"size":30,"color":"#555555","opacity":1},"encoding":{"x":{"field":"x","type":"quantitative","scale":{"domain":[0,170],"nice":false,"zero":false},"title":"Height from dorsal margin (mm)"},"y":{"field":"v","type":"quantitative","scale":{"domain":[-4,3.5],"reverse":true,"nice":false,"zero":false},"axis":null}}},
{"data":{"name":"circ"},"transform":[{"filter":"datum.p == 'B' && datum.c == 'g'"}],"mark":{"type":"point","shape":"circle","filled":false,"size":121,"strokeWidth":1.5,"color":"#1fa84a","opacity":1},"encoding":{"x":{"field":"x","type":"quantitative","scale":{"domain":[0,170],"nice":false,"zero":false},"title":"Height from dorsal margin (mm)"},"y":{"field":"v","type":"quantitative","scale":{"domain":[-4,3.5],"reverse":true,"nice":false,"zero":false},"axis":null}}},
{"data":{"name":"circ"},"transform":[{"filter":"datum.p == 'B' && datum.c == 'm'"}],"mark":{"type":"point","shape":"circle","filled":false,"size":121,"strokeWidth":1.5,"color":"#cc22ee","opacity":1},"encoding":{"x":{"field":"x","type":"quantitative","scale":{"domain":[0,170],"nice":false,"zero":false},"title":"Height from dorsal margin (mm)"},"y":{"field":"v","type":"quantitative","scale":{"domain":[-4,3.5],"reverse":true,"nice":false,"zero":false},"axis":null}}}
]},
{"resolve":{"axis":{"y":"independent"}},"layer":[
{"data":{"name":"incr"},"transform":[{"filter":"datum.p == 'B'"}],"mark":{"type":"line","color":"#7f8cff","strokeWidth":1,"opacity":0.55,"clip":true},"encoding":{"x":{"field":"x","type":"quantitative","scale":{"domain":[0,170],"nice":false,"zero":false},"title":"Height from dorsal margin (mm)"},"y":{"field":"v","type":"quantitative","scale":{"domain":[0,1.7],"nice":false,"zero":false},"axis":{"orient":"right","labels":false,"ticks":false,"domain":false,"title":"Increment height","titleColor":"#2222ff","titleAngle":270,"titleAlign":"right","titleBaseline":"middle","titleX":53,"titleY":139}}}},
{"data":{"name":"incs"},"transform":[{"filter":"datum.p == 'B'"}],"mark":{"type":"line","color":"#0000ee","strokeWidth":2,"clip":true},"encoding":{"x":{"field":"x","type":"quantitative","scale":{"domain":[0,170],"nice":false,"zero":false},"title":"Height from dorsal margin (mm)"},"y":{"field":"v","type":"quantitative","scale":{"domain":[0,1.7],"nice":false,"zero":false},"axis":{"orient":"right","values":[0,0.2,0.4,0.6,0.8,1,1.2,1.4,1.6],"format":".1f","tickSize":4,"labelPadding":11,"title":"(mm)","titleColor":"#222222","titleAngle":270,"titleAlign":"left","titleBaseline":"middle","titleX":53,"titleY":134}}}},
{"data":{"name":"tri"},"transform":[{"filter":"datum.p == 'B' && datum.f == 0"}],"mark":{"type":"point","shape":"triangle-up","filled":false,"size":220,"strokeWidth":2,"color":"#0000ff","opacity":1},"encoding":{"x":{"field":"x","type":"quantitative","scale":{"domain":[0,170],"nice":false,"zero":false},"title":"Height from dorsal margin (mm)"},"y":{"datum":0.022,"type":"quantitative","scale":{"domain":[0,1.7],"nice":false,"zero":false},"axis":null}}},
{"data":{"name":"tri"},"transform":[{"filter":"datum.p == 'B' && datum.f == 1"}],"mark":{"type":"point","shape":"triangle-up","filled":true,"size":220,"color":"#0000ff","opacity":1},"encoding":{"x":{"field":"x","type":"quantitative","scale":{"domain":[0,170],"nice":false,"zero":false},"title":"Height from dorsal margin (mm)"},"y":{"datum":0.022,"type":"quantitative","scale":{"domain":[0,1.7],"nice":false,"zero":false},"axis":null}}}
]}
]},
{"width":522,"height":364,"resolve":{"scale":{"y":"independent"},"axis":{"y":"independent"}},"layer":[
{"resolve":{"axis":{"y":"independent"}},"layer":[
{"data":{"name":"box"},"transform":[{"filter":"datum.p == 'C'"}],"mark":{"type":"rect","fill":"white","stroke":"black","strokeWidth":1.5},"encoding":{"x":{"field":"x1","type":"quantitative","scale":{"domain":[0,170],"nice":false,"zero":false},"title":"Height from dorsal margin (mm)"},"x2":{"field":"x2"},"y":{"field":"y1","type":"quantitative","scale":{"domain":[-4,3.5],"reverse":true,"nice":false,"zero":false},"axis":null},"y2":{"field":"y2"}}},
{"data":{"name":"box"},"transform":[{"filter":"datum.p == 'C' && datum.k == 'L'"}],"mark":{"type":"text","fontSize":34,"align":"center","baseline":"middle","color":"black"},"encoding":{"x":{"field":"tx","type":"quantitative","scale":{"domain":[0,170],"nice":false,"zero":false},"title":"Height from dorsal margin (mm)"},"y":{"field":"ty","type":"quantitative","scale":{"domain":[-4,3.5],"reverse":true,"nice":false,"zero":false},"axis":null},"text":{"field":"t"}}},
{"data":{"name":"box"},"transform":[{"filter":"datum.p == 'C' && datum.k == 'N'"}],"mark":{"type":"text","fontSize":24,"align":"center","baseline":"middle","color":"black"},"encoding":{"x":{"field":"tx","type":"quantitative","scale":{"domain":[0,170],"nice":false,"zero":false},"title":"Height from dorsal margin (mm)"},"y":{"field":"ty","type":"quantitative","scale":{"domain":[-4,3.5],"reverse":true,"nice":false,"zero":false},"axis":null},"text":{"field":"t"}}},
{"data":{"name":"lab"},"transform":[{"filter":"datum.p == 'C'"}],"mark":{"type":"text","fontSize":21,"align":"center","baseline":"middle","color":"black"},"encoding":{"x":{"field":"x","type":"quantitative","scale":{"domain":[0,170],"nice":false,"zero":false},"title":"Height from dorsal margin (mm)"},"y":{"field":"y","type":"quantitative","scale":{"domain":[-4,3.5],"reverse":true,"nice":false,"zero":false},"axis":null},"text":{"field":"t"}}},
{"data":{"name":"c13"},"transform":[{"filter":"datum.p == 'C'"}],"mark":{"type":"line","color":"#111111","strokeWidth":2},"encoding":{"x":{"field":"x","type":"quantitative","scale":{"domain":[0,170],"nice":false,"zero":false},"title":"Height from dorsal margin (mm)"},"y":{"field":"v","type":"quantitative","scale":{"domain":[-4,3.5],"reverse":true,"nice":false,"zero":false},"axis":{"orient":"left","values":[-4,-3,-2,-1,0,1,2,3],"labelExpr":"datum.value < 0 ? '-' + format(-datum.value, '.1f') : (datum.value > 0 ? '+' + format(datum.value, '.1f') : '0.0')","tickSize":4,"labelPadding":8,"title":"/δ¹³C (‰)","titleColor":"#222222","titleAngle":270,"titleAlign":"left","titleBaseline":"middle","titleX":-56,"titleY":206}}}},
{"data":{"name":"o18"},"transform":[{"filter":"datum.p == 'C'"}],"mark":{"type":"line","color":"#ff0000","strokeWidth":2},"encoding":{"x":{"field":"x","type":"quantitative","scale":{"domain":[0,170],"nice":false,"zero":false},"title":"Height from dorsal margin (mm)"},"y":{"field":"v","type":"quantitative","scale":{"domain":[-4,3.5],"reverse":true,"nice":false,"zero":false},"axis":{"orient":"left","labels":false,"ticks":false,"domain":false,"title":"δ¹⁸O","titleColor":"#ff0000","titleAngle":270,"titleAlign":"right","titleBaseline":"middle","titleX":-56,"titleY":206}}}},
{"data":{"name":"circ"},"transform":[{"filter":"datum.p == 'C' && datum.c == 'g'"}],"mark":{"type":"point","shape":"circle","filled":false,"size":121,"strokeWidth":1.5,"color":"#1fa84a","opacity":1},"encoding":{"x":{"field":"x","type":"quantitative","scale":{"domain":[0,170],"nice":false,"zero":false},"title":"Height from dorsal margin (mm)"},"y":{"field":"v","type":"quantitative","scale":{"domain":[-4,3.5],"reverse":true,"nice":false,"zero":false},"axis":null}}},
{"data":{"name":"circ"},"transform":[{"filter":"datum.p == 'C' && datum.c == 'm'"}],"mark":{"type":"point","shape":"circle","filled":false,"size":121,"strokeWidth":1.5,"color":"#cc22ee","opacity":1},"encoding":{"x":{"field":"x","type":"quantitative","scale":{"domain":[0,170],"nice":false,"zero":false},"title":"Height from dorsal margin (mm)"},"y":{"field":"v","type":"quantitative","scale":{"domain":[-4,3.5],"reverse":true,"nice":false,"zero":false},"axis":null}}}
]},
{"resolve":{"axis":{"y":"independent"}},"layer":[
{"data":{"name":"incr"},"transform":[{"filter":"datum.p == 'C'"}],"mark":{"type":"line","color":"#7f8cff","strokeWidth":1,"opacity":0.55,"clip":true},"encoding":{"x":{"field":"x","type":"quantitative","scale":{"domain":[0,170],"nice":false,"zero":false},"title":"Height from dorsal margin (mm)"},"y":{"field":"v","type":"quantitative","scale":{"domain":[0,1.7],"nice":false,"zero":false},"axis":{"orient":"right","labels":false,"ticks":false,"domain":false,"title":"Increment height","titleColor":"#2222ff","titleAngle":270,"titleAlign":"right","titleBaseline":"middle","titleX":53,"titleY":139}}}},
{"data":{"name":"incs"},"transform":[{"filter":"datum.p == 'C'"}],"mark":{"type":"line","color":"#0000ee","strokeWidth":2,"clip":true},"encoding":{"x":{"field":"x","type":"quantitative","scale":{"domain":[0,170],"nice":false,"zero":false},"title":"Height from dorsal margin (mm)"},"y":{"field":"v","type":"quantitative","scale":{"domain":[0,1.7],"nice":false,"zero":false},"axis":{"orient":"right","values":[0,0.2,0.4,0.6,0.8,1,1.2,1.4,1.6],"format":".1f","tickSize":4,"labelPadding":11,"title":"(mm)","titleColor":"#222222","titleAngle":270,"titleAlign":"left","titleBaseline":"middle","titleX":53,"titleY":134}}}},
{"data":{"name":"tri"},"transform":[{"filter":"datum.p == 'C' && datum.f == 1"}],"mark":{"type":"point","shape":"triangle-up","filled":true,"size":220,"color":"#0000ff","opacity":1},"encoding":{"x":{"field":"x","type":"quantitative","scale":{"domain":[0,170],"nice":false,"zero":false},"title":"Height from dorsal margin (mm)"},"y":{"datum":0.022,"type":"quantitative","scale":{"domain":[0,1.7],"nice":false,"zero":false},"axis":null}}}
]}
]},
{"width":522,"height":364,"resolve":{"scale":{"y":"independent"},"axis":{"y":"independent"}},"layer":[
{"resolve":{"axis":{"y":"independent"}},"layer":[
{"data":{"name":"box"},"transform":[{"filter":"datum.p == 'D'"}],"mark":{"type":"rect","fill":"white","stroke":"black","strokeWidth":1.5},"encoding":{"x":{"field":"x1","type":"quantitative","scale":{"domain":[0,170],"nice":false,"zero":false},"title":"Height from dorsal margin (mm)"},"x2":{"field":"x2"},"y":{"field":"y1","type":"quantitative","scale":{"domain":[-4,3.5],"reverse":true,"nice":false,"zero":false},"axis":null},"y2":{"field":"y2"}}},
{"data":{"name":"box"},"transform":[{"filter":"datum.p == 'D' && datum.k == 'L'"}],"mark":{"type":"text","fontSize":34,"align":"center","baseline":"middle","color":"black"},"encoding":{"x":{"field":"tx","type":"quantitative","scale":{"domain":[0,170],"nice":false,"zero":false},"title":"Height from dorsal margin (mm)"},"y":{"field":"ty","type":"quantitative","scale":{"domain":[-4,3.5],"reverse":true,"nice":false,"zero":false},"axis":null},"text":{"field":"t"}}},
{"data":{"name":"box"},"transform":[{"filter":"datum.p == 'D' && datum.k == 'N'"}],"mark":{"type":"text","fontSize":24,"align":"center","baseline":"middle","color":"black"},"encoding":{"x":{"field":"tx","type":"quantitative","scale":{"domain":[0,170],"nice":false,"zero":false},"title":"Height from dorsal margin (mm)"},"y":{"field":"ty","type":"quantitative","scale":{"domain":[-4,3.5],"reverse":true,"nice":false,"zero":false},"axis":null},"text":{"field":"t"}}},
{"data":{"name":"lab"},"transform":[{"filter":"datum.p == 'D'"}],"mark":{"type":"text","fontSize":21,"align":"center","baseline":"middle","color":"black"},"encoding":{"x":{"field":"x","type":"quantitative","scale":{"domain":[0,170],"nice":false,"zero":false},"title":"Height from dorsal margin (mm)"},"y":{"field":"y","type":"quantitative","scale":{"domain":[-4,3.5],"reverse":true,"nice":false,"zero":false},"axis":null},"text":{"field":"t"}}},
{"data":{"name":"c13"},"transform":[{"filter":"datum.p == 'D'"}],"mark":{"type":"line","color":"#111111","strokeWidth":2},"encoding":{"x":{"field":"x","type":"quantitative","scale":{"domain":[0,170],"nice":false,"zero":false},"title":"Height from dorsal margin (mm)"},"y":{"field":"v","type":"quantitative","scale":{"domain":[-4,3.5],"reverse":true,"nice":false,"zero":false},"axis":{"orient":"left","values":[-4,-3,-2,-1,0,1,2,3],"labelExpr":"datum.value < 0 ? '-' + format(-datum.value, '.1f') : (datum.value > 0 ? '+' + format(datum.value, '.1f') : '0.0')","tickSize":4,"labelPadding":8,"title":"/δ¹³C (‰)","titleColor":"#222222","titleAngle":270,"titleAlign":"left","titleBaseline":"middle","titleX":-56,"titleY":206}}}},
{"data":{"name":"o18"},"transform":[{"filter":"datum.p == 'D'"}],"mark":{"type":"line","color":"#ff0000","strokeWidth":2},"encoding":{"x":{"field":"x","type":"quantitative","scale":{"domain":[0,170],"nice":false,"zero":false},"title":"Height from dorsal margin (mm)"},"y":{"field":"v","type":"quantitative","scale":{"domain":[-4,3.5],"reverse":true,"nice":false,"zero":false},"axis":{"orient":"left","labels":false,"ticks":false,"domain":false,"title":"δ¹⁸O","titleColor":"#ff0000","titleAngle":270,"titleAlign":"right","titleBaseline":"middle","titleX":-56,"titleY":206}}}},
{"data":{"name":"circ"},"transform":[{"filter":"datum.p == 'D' && datum.c == 'g'"}],"mark":{"type":"point","shape":"circle","filled":false,"size":121,"strokeWidth":1.5,"color":"#1fa84a","opacity":1},"encoding":{"x":{"field":"x","type":"quantitative","scale":{"domain":[0,170],"nice":false,"zero":false},"title":"Height from dorsal margin (mm)"},"y":{"field":"v","type":"quantitative","scale":{"domain":[-4,3.5],"reverse":true,"nice":false,"zero":false},"axis":null}}},
{"data":{"name":"circ"},"transform":[{"filter":"datum.p == 'D' && datum.c == 'm'"}],"mark":{"type":"point","shape":"circle","filled":false,"size":121,"strokeWidth":1.5,"color":"#cc22ee","opacity":1},"encoding":{"x":{"field":"x","type":"quantitative","scale":{"domain":[0,170],"nice":false,"zero":false},"title":"Height from dorsal margin (mm)"},"y":{"field":"v","type":"quantitative","scale":{"domain":[-4,3.5],"reverse":true,"nice":false,"zero":false},"axis":null}}}
]},
{"resolve":{"axis":{"y":"independent"}},"layer":[
{"data":{"name":"incr"},"transform":[{"filter":"datum.p == 'D'"}],"mark":{"type":"line","color":"#7f8cff","strokeWidth":1,"opacity":0.55,"clip":true},"encoding":{"x":{"field":"x","type":"quantitative","scale":{"domain":[0,170],"nice":false,"zero":false},"title":"Height from dorsal margin (mm)"},"y":{"field":"v","type":"quantitative","scale":{"domain":[0,1.7],"nice":false,"zero":false},"axis":{"orient":"right","labels":false,"ticks":false,"domain":false,"title":"Increment height","titleColor":"#2222ff","titleAngle":270,"titleAlign":"right","titleBaseline":"middle","titleX":53,"titleY":139}}}},
{"data":{"name":"incs"},"transform":[{"filter":"datum.p == 'D'"}],"mark":{"type":"line","color":"#0000ee","strokeWidth":2,"clip":true},"encoding":{"x":{"field":"x","type":"quantitative","scale":{"domain":[0,170],"nice":false,"zero":false},"title":"Height from dorsal margin (mm)"},"y":{"field":"v","type":"quantitative","scale":{"domain":[0,1.7],"nice":false,"zero":false},"axis":{"orient":"right","values":[0,0.2,0.4,0.6,0.8,1,1.2,1.4,1.6],"format":".1f","tickSize":4,"labelPadding":11,"title":"(mm)","titleColor":"#222222","titleAngle":270,"titleAlign":"left","titleBaseline":"middle","titleX":53,"titleY":134}}}},
{"data":{"name":"tri"},"transform":[{"filter":"datum.p == 'D' && datum.f == 0"}],"mark":{"type":"point","shape":"triangle-up","filled":false,"size":220,"strokeWidth":2,"color":"#0000ff","opacity":1},"encoding":{"x":{"field":"x","type":"quantitative","scale":{"domain":[0,170],"nice":false,"zero":false},"title":"Height from dorsal margin (mm)"},"y":{"datum":0.022,"type":"quantitative","scale":{"domain":[0,1.7],"nice":false,"zero":false},"axis":null}}},
{"data":{"name":"tri"},"transform":[{"filter":"datum.p == 'D' && datum.f == 1"}],"mark":{"type":"point","shape":"triangle-up","filled":true,"size":220,"color":"#0000ff","opacity":1},"encoding":{"x":{"field":"x","type":"quantitative","scale":{"domain":[0,170],"nice":false,"zero":false},"title":"Height from dorsal margin (mm)"},"y":{"datum":0.022,"type":"quantitative","scale":{"domain":[0,1.7],"nice":false,"zero":false},"axis":null}}}
]}
]}
],
"config": {
"font": "Liberation Sans",
"view": {"stroke": "#9a9a9a", "strokeWidth": 1.5},
"axis": {"grid": false, "domainColor": "#9a9a9a", "domainWidth": 1.5, "tickColor": "#9a9a9a", "tickWidth": 1, "labelColor": "#333333", "labelFont": "Liberation Sans", "labelFontSize": 16, "titleFont": "Liberation Sans", "titleFontSize": 18, "titleFontWeight": "normal", "titleColor": "#333333"},
"axisX": {"tickCount": 9, "tickSize": 4, "labelPadding": 5, "titlePadding": 6}
}
}
